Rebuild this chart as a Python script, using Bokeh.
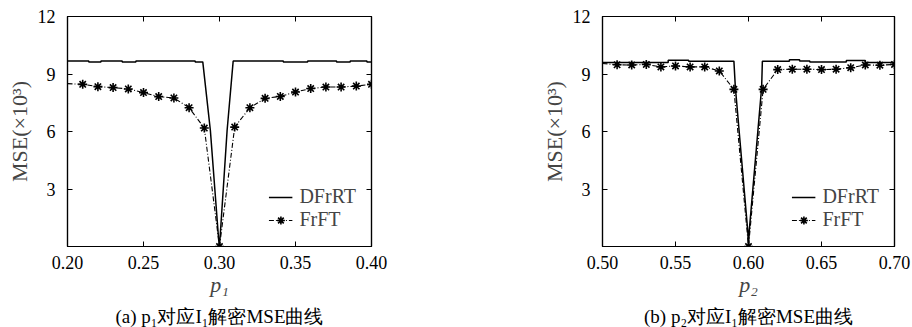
from bokeh.plotting import figure
from bokeh.layouts import row
from bokeh.models import Range1d, FixedTicker, LinearAxis, PrintfTickFormatter, Title
from bokeh.embed import file_html
from bokeh.resources import INLINE

FONT = "Liberation Serif"

# ---------- panel (a): p1 ----------
a_dfrrt_x = [0.200, 0.214, 0.214, 0.222, 0.222, 0.236, 0.236, 0.245, 0.245, 0.284, 0.284,
             0.289, 0.294, 0.2995, 0.300, 0.305, 0.309, 0.342, 0.342, 0.358, 0.358, 0.377,
             0.377, 0.386, 0.386, 0.397, 0.397, 0.400]
a_dfrrt_y = [9.68, 9.68, 9.62, 9.62, 9.68, 9.68, 9.62, 9.62, 9.68, 9.68, 9.63,
             9.63, 6.05, 0.30, 0.00, 6.05, 9.68, 9.68, 9.62, 9.62, 9.68, 9.68,
             9.62, 9.62, 9.68, 9.68, 9.62, 9.62]
a_frft_x = [0.20, 0.21, 0.22, 0.23, 0.24, 0.25, 0.26, 0.27, 0.28, 0.29, 0.30,
            0.31, 0.32, 0.33, 0.34, 0.35, 0.36, 0.37, 0.38, 0.39, 0.40]
a_frft_y = [8.50, 8.46, 8.34, 8.29, 8.22, 8.03, 7.82, 7.75, 7.24, 6.18, 0.00,
            6.23, 7.24, 7.73, 7.83, 8.06, 8.24, 8.32, 8.32, 8.37, 8.46]
a_xticks = [0.20, 0.25, 0.30, 0.35, 0.40]

# ---------- panel (b): p2 ----------
b_dfrrt_x = [0.500, 0.545, 0.545, 0.559, 0.559, 0.590, 0.591, 0.5995, 0.600, 0.6005, 0.609,
             0.6095, 0.628, 0.628, 0.635, 0.635, 0.642, 0.642, 0.667, 0.667, 0.680, 0.680, 0.700]
b_dfrrt_y = [9.60, 9.60, 9.72, 9.72, 9.67, 9.67, 8.30, 0.80, 0.00, 0.80, 8.30,
             9.67, 9.67, 9.75, 9.75, 9.68, 9.68, 9.63, 9.63, 9.70, 9.70, 9.60, 9.60]
b_frft_x = [0.50, 0.51, 0.52, 0.53, 0.54, 0.55, 0.56, 0.57, 0.58, 0.59, 0.60,
            0.61, 0.62, 0.63, 0.64, 0.65, 0.66, 0.67, 0.68, 0.69, 0.70]
b_frft_y = [9.55, 9.48, 9.47, 9.50, 9.37, 9.42, 9.37, 9.37, 9.16, 8.20, 0.00,
            8.20, 9.23, 9.25, 9.25, 9.23, 9.25, 9.33, 9.47, 9.46, 9.50]
b_xticks = [0.50, 0.55, 0.60, 0.65, 0.70]

y_ticks = [3, 6, 9, 12]
series_names = ["DFrRT", "FrFT"]


def style_axis(ax, show_labels):
    ax.axis_line_color = "black"
    ax.axis_line_width = 1.2
    ax.major_tick_in = 5
    ax.major_tick_out = 0
    ax.minor_tick_in = 0
    ax.minor_tick_out = 0
    ax.major_tick_line_color = "black"
    ax.major_label_text_font = FONT
    ax.major_label_text_font_size = "18px"
    if show_labels:
        ax.major_label_text_color = "black"
    else:
        ax.major_label_text_color = None
        ax.major_label_text_font_size = "6px"
        ax.major_label_standoff = 0


def make_panel(xr, xticks, dx, dy, fx, fy, xlabel, caption, frame_w, bl, br, cap_dx):
    p = figure(frame_width=frame_w, frame_height=230, output_backend="svg",
               toolbar_location=None, x_range=Range1d(*xr), y_range=Range1d(0, 12),
               min_border_left=bl, min_border_right=br, min_border_top=16,
               min_border_bottom=0, background_fill_color="white",
               border_fill_color="white")
    p.grid.visible = False
    p.outline_line_color = "black"
    p.outline_line_width = 1.2

    p.line(dx, dy, line_color="black", line_width=1.5, legend_label=series_names[0])
    p.line(fx, fy, line_color="black", line_width=1.1, line_dash="5 2 1 2",
           legend_label=series_names[1])
    p.scatter(fx[1:], fy[1:], marker="asterisk", size=9, line_color="black",
              line_width=1.6, legend_label=series_names[1])

    p.xaxis.ticker = FixedTicker(ticks=xticks)
    p.yaxis.ticker = FixedTicker(ticks=y_ticks)
    p.xaxis.formatter = PrintfTickFormatter(format="%.2f")
    style_axis(p.xaxis[0], True)
    style_axis(p.yaxis[0], True)
    p.xaxis.major_label_standoff = 9
    p.yaxis.major_label_standoff = 12

    p.xaxis.axis_label = xlabel
    p.xaxis.axis_label_text_font = FONT
    p.xaxis.axis_label_text_font_size = "22px"
    p.xaxis.axis_label_text_font_style = "italic"
    p.xaxis.axis_label_standoff = 0
    p.yaxis.axis_label = "MSE(×10³)"
    p.yaxis.axis_label_text_font = FONT
    p.yaxis.axis_label_text_font_size = "22px"
    p.yaxis.axis_label_text_font_style = "normal"
    p.yaxis.axis_label_standoff = 3

    top = LinearAxis(ticker=FixedTicker(ticks=xticks))
    right = LinearAxis(ticker=FixedTicker(ticks=y_ticks))
    style_axis(top, False)
    style_axis(right, False)
    p.add_layout(top, "above")
    p.add_layout(right, "right")

    lg = p.legend[0]
    lg.location = "bottom_right"
    lg.border_line_alpha = 0
    lg.background_fill_alpha = 0
    lg.label_text_font = FONT
    lg.label_text_font_size = "20px"
    lg.glyph_width = 24
    lg.label_standoff = 7
    lg.spacing = 0
    lg.padding = 3
    lg.margin = 12
    lg.label_height = 20
    lg.glyph_height = 20

    cap = Title(text=caption, align="center", offset=cap_dx, text_font=FONT,
                text_font_size="19px", text_font_style="normal", text_color="black",
                standoff=8)
    p.add_layout(cap, "below")
    return p


pa = make_panel((0.2, 0.4), a_xticks, a_dfrrt_x, a_dfrrt_y, a_frft_x, a_frft_y,
                "p₁", "(a) p₁对应I₁解密MSE曲线", 304, 67, 85, 8)
pb = make_panel((0.5, 0.7), b_xticks, b_dfrrt_x, b_dfrrt_y, b_frft_x, b_frft_y,
                "p₂", "(b) p₂对应I₁解密MSE曲线", 292, 146, 18, 0)

layout = row(pa, pb)
open("out.html", "w").write(file_html(layout, INLINE))
